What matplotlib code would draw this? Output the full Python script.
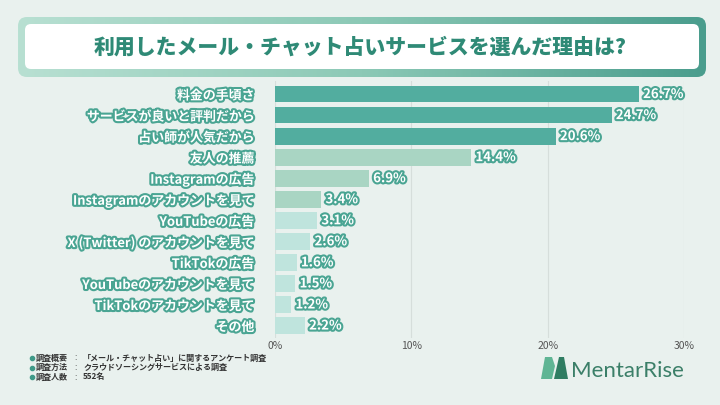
import numpy as np
import matplotlib
matplotlib.use("Agg")
import matplotlib.pyplot as plt
from matplotlib.patches import FancyBboxPatch, Polygon
from matplotlib.colors import LinearSegmentedColormap
import matplotlib.patheffects as pe

plt.rcParams['font.family'] = ['Noto Sans CJK JP', 'DejaVu Sans']

categories = ["料金の手頃さ", "サービスが良いと評判だから", "占い師が人気だから", "友人の推薦",
              "Instagramの広告", "Instagramのアカウントを見て", "YouTubeの広告",
              "X (Twitter) のアカウントを見て", "TikTokの広告", "YouTubeのアカウントを見て",
              "TikTokのアカウントを見て", "その他"]
values = [26.7, 24.7, 20.6, 14.4, 6.9, 3.4, 3.1, 2.6, 1.6, 1.5, 1.2, 2.2]
xticks = [0, 10, 20, 30]
xtick_labels = ["0%", "10%", "20%", "30%"]
title = "利用したメール・チャット占いサービスを選んだ理由は?"
notes = [("調査概要", "「メール・チャット占い」に関するアンケート調査"),
         ("調査方法", "クラウドソーシングサービスによる調査"),
         ("調査人数", "552名")]

bar_colors = ["#52ad9f"] * 3 + ["#a9d5c3"] * 3 + ["#bfe4dd"] * 6
bg = "#e9f1ee"
teal = "#4aa593"

fig = plt.figure(figsize=(7.2, 4.05), dpi=100, facecolor=bg)

# Title box with gradient border
tax = fig.add_axes([0, 0, 1, 1], zorder=0)
tax.set_xlim(0, 720)
tax.set_ylim(405, 0)
tax.axis('off')
outer = FancyBboxPatch((18, 17), 688, 60, boxstyle="round,pad=0,rounding_size=9",
                       facecolor='none', edgecolor='none')
tax.add_patch(outer)
grad = np.linspace(0, 1, 256).reshape(1, -1)
cmap = LinearSegmentedColormap.from_list("g", ["#b8e0d2", "#8cc9b6", "#4a9d8d"])
im = tax.imshow(grad, extent=(18, 706, 77, 17), cmap=cmap, aspect='auto', zorder=1)
im.set_clip_path(outer)
inner = FancyBboxPatch((25, 24), 674, 45, boxstyle="round,pad=0,rounding_size=6",
                       facecolor='white', edgecolor='none', zorder=2)
tax.add_patch(inner)
tax.text(360, 47, title, ha='center', va='center', fontsize=15, fontweight='heavy',
         color="#2f8a76", zorder=3)

# Notes
for i, (k, v) in enumerate(notes):
    y = 358 + i * 9.5
    tax.plot(32, y, 'o', color="#3f9a88", markersize=3)
    tax.text(36, y, k, fontsize=5.8, va='center', color="#333333", fontweight='bold')
    tax.text(74, y, ":", fontsize=5.8, va='center', color="#333333")
    tax.text(83, y, v, fontsize=5.8, va='center', color="#333333", fontweight='bold')

# Logo
tax.add_patch(Polygon([[541, 379], [545, 357], [552, 357], [555, 366], [552, 379]],
                      closed=True, facecolor="#5fb594", edgecolor='none'))
tax.add_patch(Polygon([[554, 379], [557, 366], [559, 357], [564, 357], [568, 379]],
                      closed=True, facecolor="#2f7d62", edgecolor='none'))
tax.text(571, 371, "MentarRise", fontsize=16, va='center', ha='left', color="#3b7f68",
         family=['Lato', 'DejaVu Sans'], fontweight='normal')

# Bar chart
ax = fig.add_axes([0.382, 0.165, 0.568, 0.634], zorder=5)
ax.set_facecolor('none')
y = np.arange(len(categories))
ax.barh(y, values, height=0.8, color=bar_colors, zorder=3)
ax.set_ylim(len(categories) - 0.4, -0.6)
ax.set_xlim(0, 30)
ax.set_xticks(xticks)
ax.set_xticklabels(xtick_labels, fontsize=7.5, color="#555555")
ax.tick_params(axis='x', length=0, pad=2)
ax.set_yticks(y)
ax.set_yticklabels(categories, fontsize=9.3, color='white', fontweight='bold')
ax.tick_params(axis='y', length=0, pad=15)
for lbl in ax.get_yticklabels():
    lbl.set_path_effects([pe.withStroke(linewidth=3, foreground=teal)])
ax.grid(axis='x', color="#d6dedb", linewidth=0.8, zorder=0)
for s in ax.spines.values():
    s.set_visible(False)
for yi, v in zip(y, values):
    t = ax.text(v + 0.3, yi, f"{v}%", va='center', ha='left', fontsize=9.5,
                color='white', fontweight='bold', zorder=4)
    t.set_path_effects([pe.withStroke(linewidth=3, foreground=teal)])

fig.savefig("out.png", dpi=100, facecolor=bg)
